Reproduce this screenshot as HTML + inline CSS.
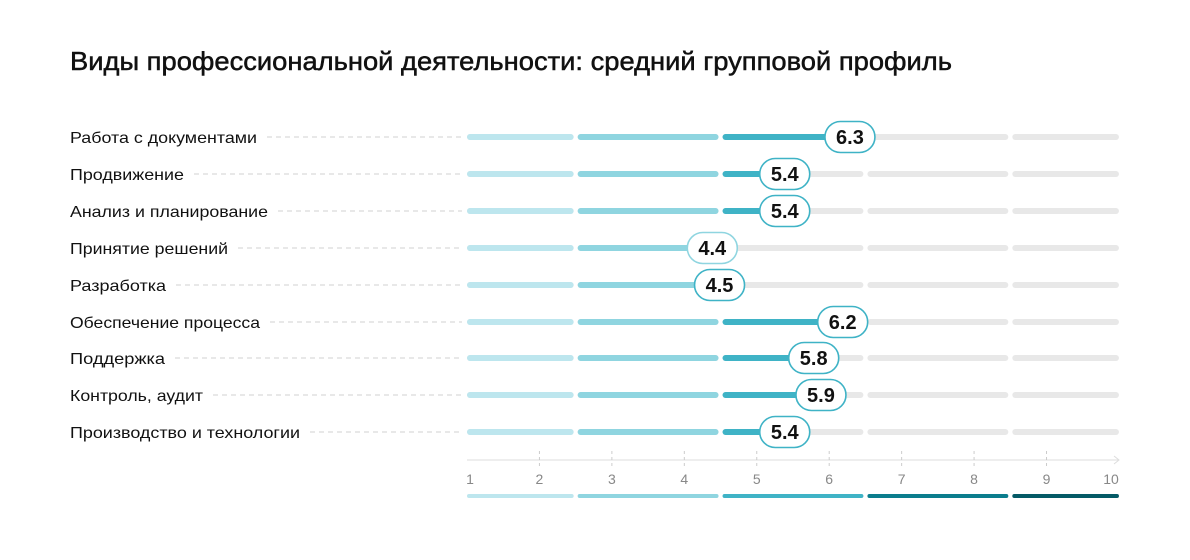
<!DOCTYPE html>
<html><head><meta charset="utf-8"><style>
html,body{margin:0;padding:0;background:#fff;}
svg{display:block;font-family:"Liberation Sans",sans-serif;}
</style></head><body>
<svg id="s" width="1190" height="560" viewBox="0 0 1190 560" xmlns="http://www.w3.org/2000/svg">
<text x="70" y="70" font-size="26" fill="#111" stroke="#111" stroke-width="0.5" textLength="882" lengthAdjust="spacingAndGlyphs">Виды профессиональной деятельности: средний групповой профиль</text>
</svg>
<script>
var s=document.getElementById('s'),NS='http://www.w3.org/2000/svg';
function el(t,a,txt){var e=document.createElementNS(NS,t);for(var k in a)e.setAttribute(k,a[k]);if(txt!=null)e.textContent=txt;s.appendChild(e);return e;}
function X(v){return 467+(v-1)*72.44;}
var segs=[[1,2.5,'#bde6ee'],[2.5,4.5,'#8fd5e0'],[4.5,6.5,'#3fb3c6'],[6.5,8.5,'#0b7d8d'],[8.5,10,'#045a66']];
var rows=[["Работа с документами",6.3,257],["Продвижение",5.4,184],["Анализ и планирование",5.4,268],["Принятие решений",4.4,228],["Разработка",4.5,166],["Обеспечение процесса",6.2,260],["Поддержка",5.8,165],["Контроль, аудит",5.9,203],["Производство и технологии",5.4,300]];
var ys=[137,174,211,248,285,322,358,395,432];
function segPos(i){var a=X(segs[i][0])+(i?2:0),b=X(segs[i][1])-(i<4?2:0);return [a,b];}
rows.forEach(function(r,i){
 var y=ys[i];
 el('text',{x:70,y:y+6,'font-size':16,fill:'#111',textLength:r[2]-70,lengthAdjust:'spacingAndGlyphs'},r[0]);
 el('line',{x1:r[2]+10,x2:462,y1:y,y2:y,stroke:'#d0d0d0','stroke-width':1,'stroke-dasharray':'5,4'});
 var vx=X(r[1])-1;
 segs.forEach(function(sg,j){var p=segPos(j);
  el('line',{x1:p[0]+3,x2:p[1]-3,y1:y,y2:y,stroke:'#e8e8e8','stroke-width':6,'stroke-linecap':'round'});
  if(vx>p[0]){var e=Math.min(vx,p[1]);el('line',{x1:p[0]+3,x2:Math.max(p[0]+3,e-3),y1:y,y2:y,stroke:sg[2],'stroke-width':6,'stroke-linecap':'round'});}
 });
 var col=r[1]<4.5?'#8fd5e0':'#3fb3c6';
 el('rect',{x:vx-25,y:y-15.5,width:50,height:31,rx:15.5,fill:'#fff',stroke:col,'stroke-width':1.6});
 el('text',{x:vx,y:y+7,'font-size':20,'font-weight':'bold',fill:'#111','text-anchor':'middle'},r[1].toFixed(1));
});
el('line',{x1:467,x2:1118,y1:460,y2:460,stroke:'#ddd','stroke-width':1});
el('polyline',{points:'1114,456 1119,460 1114,464',fill:'none',stroke:'#ddd','stroke-width':1});
for(var v=1;v<=10;v++){var x=X(v);
 if(v>1&&v<10)el('line',{x1:x,x2:x,y1:451,y2:469,stroke:'#ccc','stroke-width':1,'stroke-dasharray':'3,3'});
 el('text',{x:v==1?470:(v==10?1111:x),y:484,'font-size':14,fill:'#888','text-anchor':'middle'},String(v));
}
segs.forEach(function(sg,j){var p=segPos(j);el('line',{x1:p[0]+2,x2:p[1]-2,y1:496,y2:496,stroke:sg[2],'stroke-width':4,'stroke-linecap':'round'});});
</script>
</body></html>
